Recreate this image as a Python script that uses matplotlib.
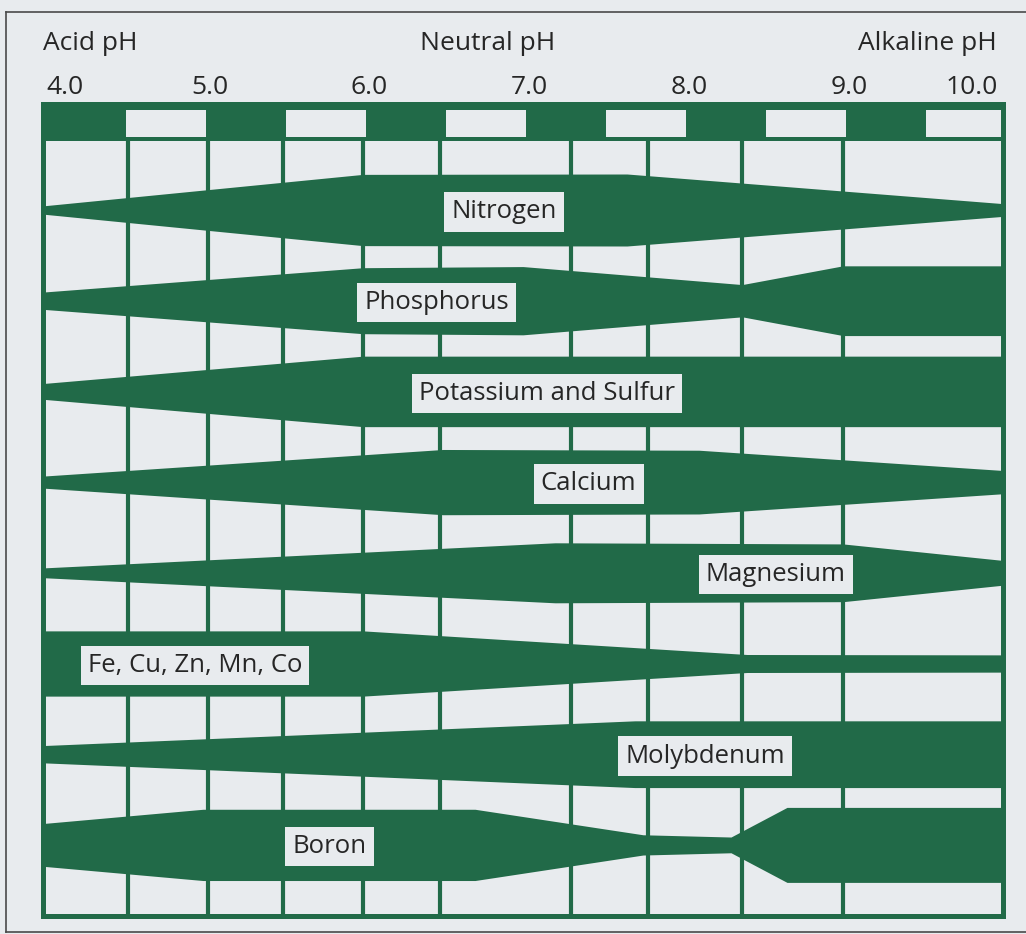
import numpy as np
import matplotlib

matplotlib.use("Agg")
import matplotlib.pyplot as plt
from matplotlib.patches import Rectangle

# ---------------------------------------------------------------- data
nutrients = ["Nitrogen", "Phosphorus", "Potassium and Sulfur", "Calcium",
             "Magnesium", "Fe, Cu, Zn, Mn, Co", "Molybdenum", "Boron"]

# relative availability (band half-width, 1.0 = widest) at pH breakpoints
n_ph = [4.0, 6.0, 7.65, 10.0]
n_av = [0.11, 0.95, 0.96, 0.17]
p_ph = [4.0, 6.0, 7.0, 8.37, 9.0, 10.0]
p_av = [0.23, 0.88, 0.91, 0.43, 0.93, 0.93]
k_ph = [4.0, 6.0, 10.0]
k_av = [0.21, 0.94, 0.94]
ca_ph = [4.0, 6.5, 8.1, 10.0]
ca_av = [0.16, 0.87, 0.85, 0.31]
mg_ph = [4.0, 7.2, 9.0, 10.0]
mg_av = [0.13, 0.80, 0.77, 0.33]
fe_ph = [4.0, 6.0, 8.4, 10.0]
fe_av = [0.87, 0.87, 0.24, 0.23]
mo_ph = [4.0, 7.7, 10.0]
mo_av = [0.23, 0.89, 0.89]
b_ph = [4.0, 5.0, 6.7, 7.75, 8.3, 8.65, 10.0]
b_av = [0.57, 0.95, 0.95, 0.27, 0.21, 1.0, 1.0]

profiles = [(n_ph, n_av), (p_ph, p_av), (k_ph, k_av), (ca_ph, ca_av),
            (mg_ph, mg_av), (fe_ph, fe_av), (mo_ph, mo_av), (b_ph, b_av)]

# where each name box sits along the pH axis
label_ph = [6.88, 6.46, 7.15, 7.41, 8.58, 4.95, 8.14, 5.79]

# irregular vertical grid lines of the chart
grid_ph = [4.53, 5.03, 5.5, 6.0, 6.48, 7.3, 7.78, 8.37, 9.0]

tick_ph = [4.0, 5.0, 6.0, 7.0, 8.0, 9.0, 10.0]
tick_labels = ["4.0", "5.0", "6.0", "7.0", "8.0", "9.0", "10.0"]
zone_labels = ["Acid pH", "Neutral pH", "Alkaline pH"]

# ---------------------------------------------------------------- style
GREEN = "#216a48"
PAPER = "#e8ebee"
INK = "#262626"
FONT = ["Open Sans", "DejaVu Sans"]
HALF_MAX = 37.5 / 90.7      # widest half-band, in row units


def px_x(px):
    return 4.0 + (px - 43) / 160.0


def px_y(px):
    return (px - 210) / 90.7


fig = plt.figure(figsize=(10.26, 9.34), dpi=100, facecolor=PAPER)
ax = fig.add_axes([0, 0, 1, 1])
ax.set_facecolor(PAPER)
ax.set_xlim(px_x(0), px_x(1026))
ax.set_ylim(px_y(934), px_y(0))
ax.axis("off")

# thin page frame
ax.plot([px_x(6), px_x(1030)], [px_y(12), px_y(12)], color="#4a4a4a", lw=1.2)
ax.plot([px_x(6), px_x(6)], [px_y(12), px_y(932)], color="#4a4a4a", lw=1.2)
ax.plot([px_x(6), px_x(1030)], [px_y(932), px_y(932)], color="#4a4a4a", lw=1.2)

top, bottom = px_y(104), px_y(916)

# pH scale bar: alternating half-unit blocks
ax.add_patch(Rectangle((4.0, top), 6.0, px_y(141) - top, color=GREEN, lw=0))
for start in np.arange(4.5, 10.0, 1.0):
    ax.add_patch(Rectangle((start + 0.02, px_y(110)), 0.5, px_y(137) - px_y(110),
                           color=PAPER, lw=0, zorder=2))

# grid lines
for g in grid_ph:
    ax.plot([g, g], [px_y(141), bottom], color=GREEN, lw=3.0, zorder=1,
            solid_capstyle="butt")

# nutrient bands
for i, (ph, av) in enumerate(profiles):
    xs = np.array(ph)
    hw = np.array(av) * HALF_MAX
    ax.fill_between(xs, i - hw, i + hw, color=GREEN, lw=0, zorder=3)
    ax.text(label_ph[i], i + 0.02, nutrients[i], ha="center", va="center",
            fontsize=18.5, color=INK, family=FONT, zorder=5,
            bbox=dict(boxstyle="square,pad=0.28", fc=PAPER, ec="none"))

# outer green frame
ax.add_patch(Rectangle((4.0, top), 6.0, bottom - top, fill=False,
                       ec=GREEN, lw=3.6, zorder=4))

# scale text
for ph, lab in zip(tick_ph, tick_labels):
    ha = "left" if ph == tick_ph[0] else ("right" if ph == tick_ph[-1] else "center")
    x = ph + (0.02 if ha == "left" else (-0.03 if ha == "right" else 0.04))
    ax.text(x, px_y(88), lab, ha=ha, va="center", fontsize=19,
            color=INK, family=FONT)
ax.text(4.0, px_y(44), zone_labels[0], ha="left", va="center",
        fontsize=19, color=INK, family=FONT)
ax.text(px_x(488), px_y(44), zone_labels[1], ha="center", va="center",
        fontsize=19, color=INK, family=FONT)
ax.text(9.96, px_y(44), zone_labels[2], ha="right", va="center",
        fontsize=19, color=INK, family=FONT)

fig.savefig("out.png", dpi=100, facecolor=PAPER)
